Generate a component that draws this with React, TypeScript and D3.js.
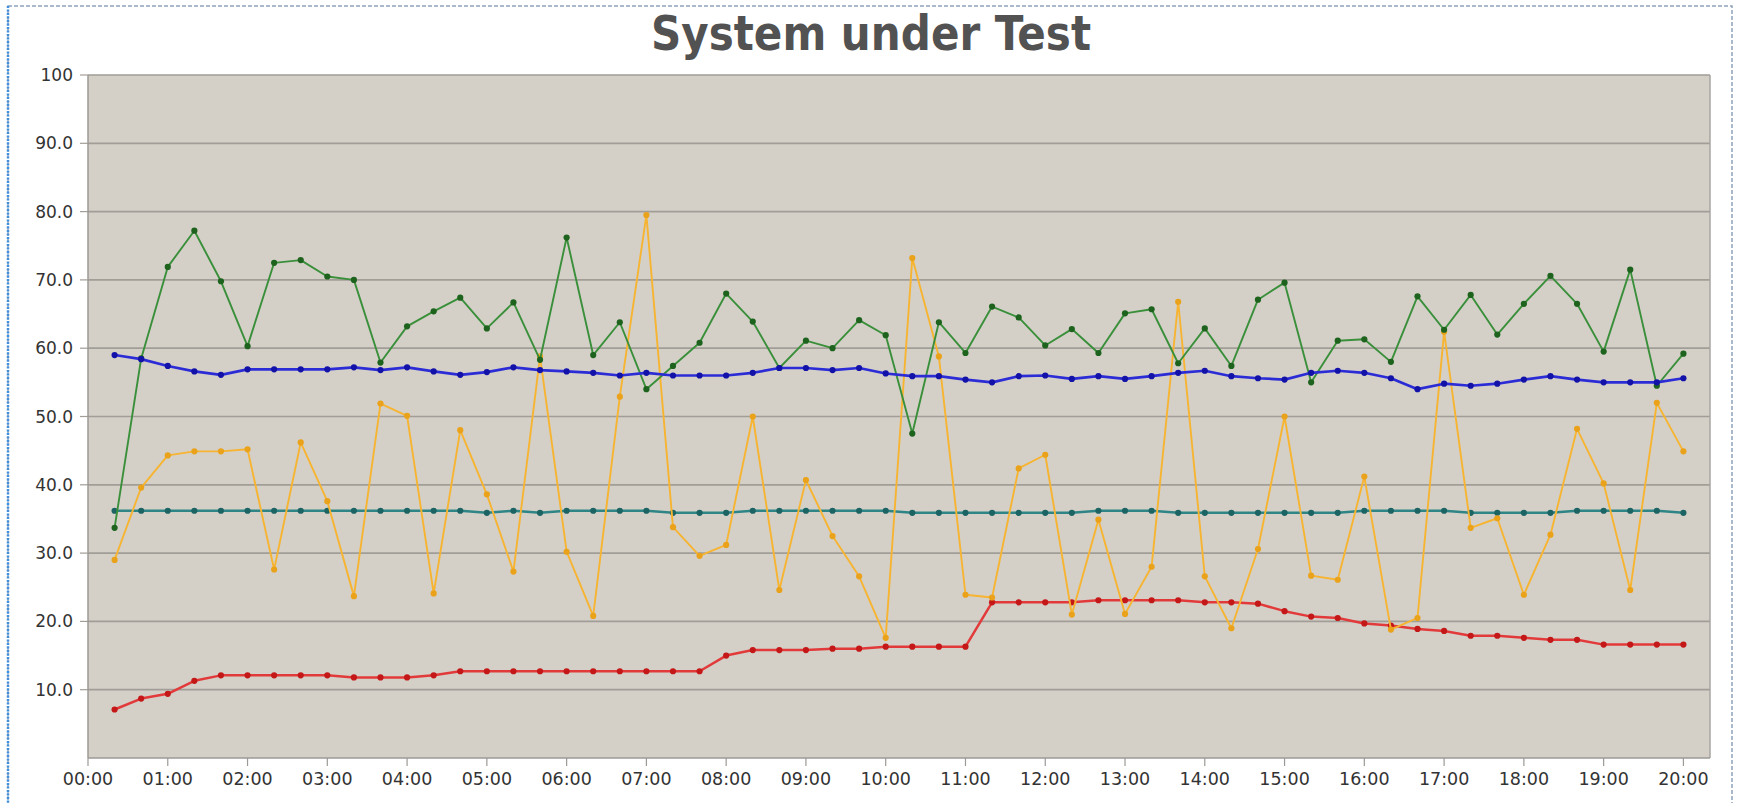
import * as d3 from 'd3'

const title = 'System under Test'

const sampleTimes = [
  '00:20', '00:40', '01:00', '01:20', '01:40', '02:00', '02:20', '02:40', '03:00', '03:20',
  '03:40', '04:00', '04:20', '04:40', '05:00', '05:20', '05:40', '06:00', '06:20', '06:40',
  '07:00', '07:20', '07:40', '08:00', '08:20', '08:40', '09:00', '09:20', '09:40', '10:00',
  '10:20', '10:40', '11:00', '11:20', '11:40', '12:00', '12:20', '12:40', '13:00', '13:20',
  '13:40', '14:00', '14:20', '14:40', '15:00', '15:20', '15:40', '16:00', '16:20', '16:40',
  '17:00', '17:20', '17:40', '18:00', '18:20', '18:40', '19:00', '19:20', '19:40', '20:00',
]

const xTickLabels = [
  '00:00', '01:00', '02:00', '03:00', '04:00', '05:00', '06:00', '07:00', '08:00', '09:00', '10:00',
  '11:00', '12:00', '13:00', '14:00', '15:00', '16:00', '17:00', '18:00', '19:00', '20:00',
]
const yTickValues = [10, 20, 30, 40, 50, 60, 70, 80, 90, 100]

const greenValues = [
  33.7, 58.5, 71.9, 77.2, 69.8, 60.3, 72.5, 72.9, 70.5, 70.0,
  57.9, 63.2, 65.4, 67.4, 62.9, 66.7, 58.3, 76.2, 59.0, 63.8,
  54.0, 57.4, 60.8, 68.0, 63.9, 57.1, 61.1, 60.0, 64.1, 61.9,
  47.5, 63.8, 59.3, 66.1, 64.5, 60.4, 62.8, 59.3, 65.1, 65.7,
  57.8, 62.9, 57.4, 67.1, 69.6, 55.0, 61.1, 61.3, 58.0, 67.6,
  62.7, 67.8, 62.0, 66.5, 70.6, 66.5, 59.5, 71.5, 54.5, 59.2,
]
const blueValues = [
  59.0, 58.4, 57.4, 56.6, 56.1, 56.9, 56.9, 56.9, 56.9, 57.2,
  56.8, 57.2, 56.6, 56.1, 56.5, 57.2, 56.8, 56.6, 56.4, 56.0,
  56.4, 56.0, 56.0, 56.0, 56.4, 57.1, 57.1, 56.8, 57.1, 56.3,
  55.9, 55.9, 55.4, 55.0, 55.9, 56.0, 55.5, 55.9, 55.5, 55.9,
  56.4, 56.7, 55.9, 55.6, 55.4, 56.4, 56.7, 56.4, 55.6, 54.0,
  54.8, 54.5, 54.8, 55.4, 55.9, 55.4, 55.0, 55.0, 55.0, 55.6,
]
const orangeValues = [
  29.0, 39.6, 44.3, 44.9, 44.9, 45.2, 27.6, 46.2, 37.6, 23.7,
  51.9, 50.1, 24.1, 48.0, 38.6, 27.3, 58.8, 30.2, 20.8, 52.9,
  79.5, 33.8, 29.6, 31.2, 50.0, 24.6, 40.7, 32.5, 26.6, 17.6,
  73.2, 58.8, 23.9, 23.5, 42.4, 44.4, 21.0, 34.9, 21.1, 28.0,
  66.8, 26.6, 19.0, 30.6, 50.0, 26.7, 26.1, 41.2, 18.8, 20.5,
  62.4, 33.7, 35.1, 23.9, 32.7, 48.2, 40.2, 24.6, 52.0, 44.9,
]
const tealValues = [
  36.2, 36.2, 36.2, 36.2, 36.2, 36.2, 36.2, 36.2, 36.2, 36.2,
  36.2, 36.2, 36.2, 36.2, 35.9, 36.2, 35.9, 36.2, 36.2, 36.2,
  36.2, 35.9, 35.9, 35.9, 36.2, 36.2, 36.2, 36.2, 36.2, 36.2,
  35.9, 35.9, 35.9, 35.9, 35.9, 35.9, 35.9, 36.2, 36.2, 36.2,
  35.9, 35.9, 35.9, 35.9, 35.9, 35.9, 35.9, 36.2, 36.2, 36.2,
  36.2, 35.9, 35.9, 35.9, 35.9, 36.2, 36.2, 36.2, 36.2, 35.9,
]
const redValues = [
  7.1, 8.7, 9.4, 11.3, 12.1, 12.1, 12.1, 12.1, 12.1, 11.8,
  11.8, 11.8, 12.1, 12.7, 12.7, 12.7, 12.7, 12.7, 12.7, 12.7,
  12.7, 12.7, 12.7, 15.0, 15.8, 15.8, 15.8, 16.0, 16.0, 16.3,
  16.3, 16.3, 16.3, 22.8, 22.8, 22.8, 22.8, 23.1, 23.1, 23.1,
  23.1, 22.8, 22.8, 22.6, 21.5, 20.7, 20.5, 19.7, 19.4, 18.9,
  18.6, 17.9, 17.9, 17.6, 17.3, 17.3, 16.6, 16.6, 16.6, 16.6,
]

const series = [
  { name: 'teal', values: tealValues, line: '#2f8585', dot: '#1c6464', width: 2.5 },
  { name: 'red', values: redValues, line: '#e23a3a', dot: '#c41818', width: 2.5 },
  { name: 'orange', values: orangeValues, line: '#f7b431', dot: '#eaa21a', width: 1.9 },
  { name: 'green', values: greenValues, line: '#3a8f3a', dot: '#1d631d', width: 1.9 },
  { name: 'blue', values: blueValues, line: '#2c2cd6', dot: '#1212a8', width: 2.7 },
]

const toMinutes = (s: string) => {
  const [h, m] = s.split(':').map(Number)
  return h * 60 + m
}

export default function App() {
  const width = 1737
  const height = 803
  const plot = { left: 88, right: 1710, top: 75, bottom: 758 }

  const x = d3.scaleLinear().domain([0, 1220]).range([plot.left, plot.right])
  const y = d3.scaleLinear().domain([0, 100]).range([plot.bottom, plot.top])

  const line = d3.line<[number, number]>()
    .x(d => x(d[0]))
    .y(d => y(d[1]))

  const font = '"DejaVu Sans", Verdana, sans-serif'

  return (
    <svg width={width} height={height} style={{ position: 'absolute', left: 0, top: 0, background: '#fff' }}>
      <rect x={8} y={6} width={1724} height={800} fill="#fff" stroke="#8fa2bc" strokeWidth={1.5} strokeDasharray="4 2" />
      <line x1={8} x2={8} y1={6} y2={803} stroke="#3f8fdc" strokeWidth={2.5} strokeDasharray="2 1.5" />
      <text x={871} y={50} textAnchor="middle" fontFamily='"DejaVu Sans Condensed", "DejaVu Sans", sans-serif'
        fontWeight="bold" fontSize={48} fill="#525252" textLength={440} lengthAdjust="spacingAndGlyphs">{title}</text>

      <rect x={plot.left} y={plot.top} width={plot.right - plot.left} height={plot.bottom - plot.top} fill="#d4d0c8" />

      {yTickValues.map(v => (
        <g key={v}>
          <line x1={plot.left} x2={plot.right} y1={y(v)} y2={y(v)} stroke="#a19d97" strokeWidth={1.7} />
          <line x1={plot.left - 8} x2={plot.left} y1={y(v)} y2={y(v)} stroke="#a19d97" strokeWidth={1.2} />
          <text x={plot.left - 15} y={y(v) + 6} textAnchor="end" fontFamily={font} fontSize={17} fill="#333">
            {v === 100 ? '100' : v.toFixed(1)}
          </text>
        </g>
      ))}

      <line x1={plot.right} x2={plot.right} y1={plot.top} y2={plot.bottom} stroke="#a8a6a2" strokeWidth={1.5} />
      <line x1={plot.left} x2={plot.left} y1={plot.top} y2={plot.bottom} stroke="#9c9a96" strokeWidth={1.5} />
      <line x1={plot.left} x2={plot.right} y1={plot.bottom} y2={plot.bottom} stroke="#9c9a96" strokeWidth={1.5} />

      {xTickLabels.map(t => {
        const xp = x(toMinutes(t))
        return (
          <g key={t}>
            <line x1={xp} x2={xp} y1={plot.bottom} y2={plot.bottom + 8} stroke="#9c9a96" strokeWidth={1.2} />
            <text x={xp} y={785} textAnchor="middle" fontFamily={font} fontSize={17.5} fill="#333">{t}</text>
          </g>
        )
      })}

      {series.map(s => {
        const pts: [number, number][] = sampleTimes.map((t, i) => [toMinutes(t), s.values[i]])
        return (
          <g key={s.name}>
            <path d={line(pts) ?? ''} fill="none" stroke={s.line} strokeWidth={s.width} strokeLinejoin="round" />
            {pts.map((p, i) => (
              <circle key={i} cx={x(p[0])} cy={y(p[1])} r={3.1} fill={s.dot} />
            ))}
          </g>
        )
      })}
    </svg>
  )
}
